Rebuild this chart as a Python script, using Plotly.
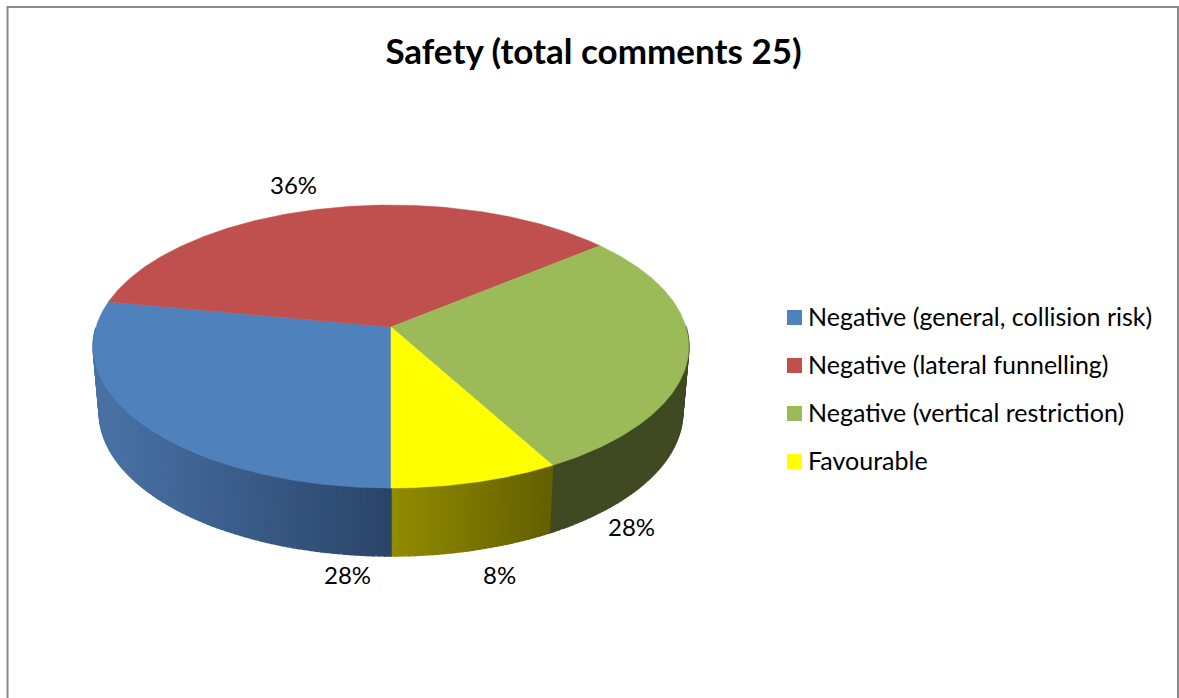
import numpy as np
import plotly.graph_objects as go

# ---- data ----
categories = ["Negative (general, collision risk)", "Negative (lateral funnelling)",
              "Negative (vertical restriction)", "Favourable"]
comments = [7, 9, 7, 2]
title_text = "Safety (total comments 25)"

# ---- style ----
top_colors = ["#4f81bd", "#c0504d", "#9bbb59", "#ffff00"]
wall_left = [(72, 112, 164), (120, 50, 48), (63, 74, 34), (146, 140, 0)]
wall_right = [(42, 69, 104), (120, 50, 48), (63, 74, 34), (100, 96, 0)]

W, H = 1179, 698
CX, CY, RX, RY, K = 391.0, 327.0, 295.0, 138.8, 0.138
BCY, BRX, BRY = 392.4, 289.0, 141.0
START_DEG = 180.0
FONT = "Lato, Carlito, Calibri, sans-serif"
LABEL_POS = [(347, 574.5), (293, 184.5), (631, 526.5), (499, 574.5)]
SWATCH_X, SWATCH_Y0, TEXT_X, TEXT_Y0, KEY_STEP = 794.5, 317.5, 805.5, 315.5, 48


def project(theta, cy, rx, ry):
    u, v = np.sin(theta), np.cos(theta)
    d = 1 + K * v
    return CX + rx * u / d, cy - ry * v / d


total = sum(comments)
edges = np.radians(START_DEG + np.cumsum([0] + comments) / total * 360.0)

fig = go.Figure()

# side walls: thin quads on the near half only, drawn back to front
quads = []
for i in range(len(comments)):
    t0, t1 = edges[i], edges[i + 1]
    n = max(4, int(np.degrees(t1 - t0)))
    ts = np.linspace(t0, t1, n + 1)
    xa = project(np.array([t0, t1]), BCY, BRX, BRY)[0]
    lo, hi = xa.min(), xa.max()
    for j in range(n):
        a, b = ts[j], ts[j + 1]
        if np.cos((a + b) / 2) > 0.0:
            continue
        ax, ay = project(a, CY, RX, RY)
        bx, by = project(b, CY, RX, RY)
        cx, cy = project(b, BCY, BRX, BRY)
        dx, dy = project(a, BCY, BRX, BRY)
        xs = [ax, bx, cx, dx, ax]
        ys = [ay, by, cy, dy, ay]
        f = float(np.clip(((ax + bx) / 2 - lo) / max(hi - lo, 1), 0, 1))
        c = [round(l + (r - l) * f) for l, r in zip(wall_left[i], wall_right[i])]
        col = f"rgb({c[0]},{c[1]},{c[2]})"
        quads.append((-np.cos((a + b) / 2), xs, ys, col))
for _, xs, ys, col in sorted(quads, key=lambda q: q[0]):
    fig.add_trace(go.Scatter(x=xs, y=ys, mode="lines", fill="toself", fillcolor=col,
                             line=dict(color=col, width=1.4), hoverinfo="skip", showlegend=False))

# top faces
for i, name in enumerate(categories):
    ts = np.linspace(edges[i], edges[i + 1], 200)
    px, py = project(ts, CY, RX, RY)
    xs = np.concatenate([[CX], px, [CX]])
    ys = np.concatenate([[CY], py, [CY]])
    fig.add_trace(go.Scatter(x=xs, y=ys, mode="lines", fill="toself", fillcolor=top_colors[i],
                             line=dict(color=top_colors[i], width=0.5), hoverinfo="text",
                             text=f"{name}: {comments[i]}", showlegend=False))

# key: swatches and their texts
for i, name in enumerate(categories):
    fig.add_trace(go.Scatter(x=[SWATCH_X], y=[SWATCH_Y0 + i * KEY_STEP], mode="markers", name=name,
                             marker=dict(symbol="square", size=15, color=top_colors[i]),
                             hoverinfo="name", showlegend=False))

annotations = [
    dict(x=x, y=y, xref="x", yref="y", text=f"{round(v / total * 100)}%", showarrow=False,
         font=dict(family=FONT, size=24, color="black"), xanchor="center", yanchor="middle")
    for (x, y), v in zip(LABEL_POS, comments)
]
annotations += [
    dict(x=TEXT_X, y=TEXT_Y0 + i * KEY_STEP, xref="x", yref="y", text=name, showarrow=False,
         font=dict(family=FONT, size=25, color="black"), xanchor="left", yanchor="middle")
    for i, name in enumerate(categories)
]

fig.update_layout(
    width=W, height=H, margin=dict(l=0, r=0, t=0, b=0), showlegend=False,
    paper_bgcolor="white", plot_bgcolor="white",
    xaxis=dict(range=[0, W], visible=False, fixedrange=True),
    yaxis=dict(range=[H, 0], visible=False, fixedrange=True),
    title=dict(text=f"<b>{title_text}</b>", x=593.5 / W, y=1 - 52 / H, xanchor="center", yanchor="middle",
               font=dict(family=FONT, size=35, color="black")),
    annotations=annotations,
    shapes=[dict(type="rect", xref="x", yref="y", x0=7.5, y0=7, x1=1178, y1=720,
                 line=dict(color="#8a8a8a", width=2), fillcolor="rgba(0,0,0,0)", layer="below")],
)

fig.write_html("out.html", post_script="document.body.style.margin='0';document.body.style.overflow='hidden';",
               config={"displayModeBar": False})
